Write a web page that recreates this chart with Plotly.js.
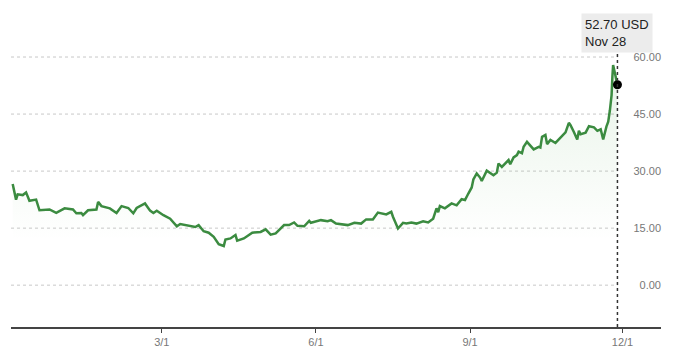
<!DOCTYPE html>
<html>
<head>
<meta charset="utf-8">
<script src="https://cdn.plot.ly/plotly-3.0.1.min.js"></script>
<style>html,body{margin:0;padding:0;background:#fff;}#chart{width:680px;height:356px;}</style>
</head>
<body>
<div id="chart"></div>
<script>
const dates = [
'2023-12-03','2023-12-05','2023-12-06','2023-12-09','2023-12-11','2023-12-13','2023-12-17','2023-12-19','2023-12-25','2023-12-29',
'2024-01-03','2024-01-08','2024-01-10','2024-01-13','2024-01-14','2024-01-17','2024-01-22','2024-01-23','2024-01-25','2024-01-30',
'2024-02-03','2024-02-06','2024-02-10','2024-02-13','2024-02-15','2024-02-20','2024-02-23','2024-02-25','2024-02-27',
'2024-03-02','2024-03-06','2024-03-10','2024-03-12','2024-03-16','2024-03-18','2024-03-21','2024-03-23','2024-03-26','2024-03-29',
'2024-04-01','2024-04-04','2024-04-07','2024-04-08','2024-04-11','2024-04-14','2024-04-15','2024-04-19','2024-04-24','2024-04-29',
'2024-05-02','2024-05-05','2024-05-08','2024-05-13','2024-05-16','2024-05-19','2024-05-21','2024-05-25','2024-05-28','2024-05-29',
'2024-06-04','2024-06-08','2024-06-10','2024-06-13','2024-06-20','2024-06-24','2024-06-28',
'2024-07-01','2024-07-05','2024-07-08','2024-07-11','2024-07-13','2024-07-16','2024-07-17','2024-07-20','2024-07-23','2024-07-25','2024-07-28','2024-07-31',
'2024-08-04','2024-08-07','2024-08-10','2024-08-12','2024-08-13','2024-08-14','2024-08-17','2024-08-21','2024-08-24','2024-08-27','2024-08-29','2024-08-31',
'2024-09-02','2024-09-03','2024-09-05','2024-09-07','2024-09-08','2024-09-11','2024-09-13','2024-09-15','2024-09-17','2024-09-18','2024-09-20','2024-09-22','2024-09-24','2024-09-25','2024-09-27','2024-09-29','2024-09-30',
'2024-10-02','2024-10-03','2024-10-05','2024-10-07','2024-10-09','2024-10-12','2024-10-13','2024-10-14','2024-10-16','2024-10-17','2024-10-19','2024-10-22','2024-10-25','2024-10-28','2024-10-30','2024-10-31',
'2024-11-02','2024-11-04','2024-11-05','2024-11-06','2024-11-09','2024-11-11','2024-11-14','2024-11-16','2024-11-18','2024-11-19 12:00','2024-11-21 10:00','2024-11-22 12:00','2024-11-23 12:00','2024-11-24 12:00','2024-11-25 00:00','2024-11-25 10:00','2024-11-28'
];
const prices = [
26.6,22.5,23.9,23.7,24.4,22.2,22.5,19.7,19.9,19.0,
20.2,19.9,18.9,19.0,18.4,19.7,19.9,21.9,20.8,20.2,
19.0,20.8,20.3,18.9,20.3,21.5,19.6,19.0,19.6,
18.4,17.5,15.5,16.1,15.8,15.5,15.3,15.8,14.2,13.8,
12.7,10.8,10.3,12.0,12.3,13.2,11.7,12.3,13.8,14.0,
14.7,13.3,13.6,15.8,15.8,16.5,15.6,15.5,16.9,16.4,
17.1,16.8,17.1,16.2,15.8,16.4,16.2,
17.3,17.3,19.1,18.9,18.6,19.3,18.0,14.9,16.4,16.2,16.5,16.2,
16.8,16.5,17.5,20.2,19.2,20.8,20.2,21.5,21.0,22.6,22.4,24.1,
25.7,27.8,29.4,28.3,27.4,30.1,29.6,28.9,29.6,32.0,31.1,32.0,32.9,31.8,33.6,34.2,35.1,
34.7,36.4,37.7,36.8,35.7,36.4,36.2,39.0,39.5,37.1,38.2,37.4,38.9,40.2,42.7,42.1,
40.3,38.3,40.6,39.7,40.1,41.8,41.5,40.6,41.0,38.3,41.7,43.0,46.0,50.0,55.0,57.9,52.70
];
const yTickVals = [0, 15, 30, 45, 60];
const yTickText = ['0.00', '15.00', '30.00', '45.00', '60.00'];
const xTickVals = ['2024-03-01', '2024-06-01', '2024-09-01', '2024-12-01'];
const xTickText = ['3/1', '6/1', '9/1', '12/1'];
const currency = 'USD';
const lastLabelDate = 'Nov 28';

const lastX = dates[dates.length - 1];
const lastY = prices[prices.length - 1];
const xStart = '2023-12-02';
const xEnd = '2024-12-24';
const font = 'Liberation Sans, Arial, Helvetica, sans-serif';

const traces = [
  {
    x: dates, y: prices, type: 'scatter', mode: 'lines',
    line: {color: '#3b8b40', width: 2.5},
    fill: 'tozeroy',
    fillgradient: {type: 'vertical', start: 0, stop: 58,
      colorscale: [[0, 'rgba(80,170,80,0)'], [0.2, 'rgba(80,170,80,0)'], [1, 'rgba(80,170,80,0.13)']]},
    hoverinfo: 'skip'
  },
  {
    x: [lastX], y: [lastY], type: 'scatter', mode: 'markers',
    marker: {color: '#000', size: 9}, hoverinfo: 'skip'
  }
];

const shapes = yTickVals.map(v => ({
  type: 'line', xref: 'x', yref: 'y', x0: xStart, x1: lastX, y0: v, y1: v,
  line: {color: '#c8c8c8', width: 1, dash: 'dot'}, layer: 'below'
}));
shapes.push({
  type: 'line', xref: 'x', yref: 'paper', x0: lastX, x1: lastX, y0: 0, y1: 0.857,
  line: {color: '#333', width: 1.5, dash: 'dot'}, layer: 'above'
});

const layout = {
  width: 680, height: 356,
  margin: {l: 11, r: 19, t: 0, b: 29.3, pad: 0},
  paper_bgcolor: '#fff', plot_bgcolor: '#fff',
  showlegend: false,
  xaxis: {
    type: 'date', range: [xStart, xEnd],
    showgrid: false, zeroline: false,
    showline: true, linecolor: '#444', linewidth: 1.5,
    ticks: 'outside', ticklen: 4, tickcolor: '#444', tickwidth: 1,
    tickvals: xTickVals, ticktext: xTickText,
    tickfont: {family: font, size: 11, color: '#777'}
  },
  yaxis: {
    range: [-11, 75], side: 'right', ticklabelposition: 'inside',
    ticklabelstandoff: -3,
    showgrid: false, zeroline: false, showline: false,
    tickvals: yTickVals, ticktext: yTickText,
    tickfont: {family: font, size: 11, color: '#777'}
  },
  shapes: shapes,
  annotations: [{
    x: lastX, xref: 'x', y: 0.9, yref: 'paper',
    text: lastY.toFixed(2) + ' ' + currency + '<br>' + lastLabelDate,
    showarrow: false, align: 'left', xanchor: 'center', yanchor: 'middle',
    bgcolor: '#ececec', borderpad: 3,
    font: {family: font, size: 13, color: '#222'}
  }]
};

Plotly.newPlot('chart', traces, layout, {displayModeBar: false, staticPlot: true});
</script>
</body>
</html>
